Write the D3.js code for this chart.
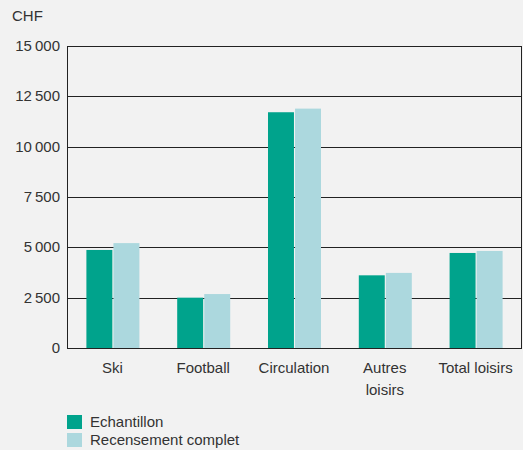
<!DOCTYPE html>
<html>
<head>
<meta charset="utf-8">
<script src="https://d3js.org/d3.v7.min.js"></script>
<style>
  body { margin: 0; background: #f2f2f2; }
  svg { display: block; font-family: "Liberation Sans", Arial, sans-serif; }
</style>
</head>
<body>
<svg id="chart" width="523" height="450"></svg>
<script>
// categories (line breaks split with |)
var categories = ["Ski", "Football", "Circulation", "Autres|loisirs", "Total loisirs"];
var echantillon = [4870, 2500, 11710, 3610, 4720];
var recensement = [5210, 2680, 11890, 3730, 4820];
var seriesNames = ["Echantillon", "Recensement complet"];
var yTicks = [0, 2500, 5000, 7500, 10000, 12500, 15000];

var colors = ["#00a38c", "#acd8de"];
var svg = d3.select("#chart");
var plotLeft = 67, plotRight = 521, plotTop = 46, plotBottom = 348;
var fs = 15;

var x = d3.scaleBand().domain(categories).range([plotLeft, plotRight]).paddingInner(0).paddingOuter(0);
var xs = d3.scaleBand().domain(seriesNames).range([0, 53]).paddingInner(0.04);
var y = d3.scaleLinear().domain([0, 15000]).range([plotBottom, plotTop]);

function fmt(v) {
  var s = String(v);
  return s.length > 3 ? s.slice(0, -3) + "\u202F" + s.slice(-3) : s;
}

// gridlines
svg.append("g").selectAll("line").data(yTicks).join("line")
  .attr("x1", plotLeft).attr("x2", plotRight)
  .attr("y1", function(d) { return Math.round(y(d)) + 0.5; })
  .attr("y2", function(d) { return Math.round(y(d)) + 0.5; })
  .attr("stroke", "#222").attr("stroke-width", 1);

// tick labels
svg.append("g").selectAll("text").data(yTicks).join("text")
  .attr("x", 60).attr("y", function(d) { return y(d) + 5; })
  .attr("text-anchor", "end").attr("font-size", fs).attr("fill", "#333")
  .text(fmt);

svg.append("text").attr("x", 12).attr("y", 21).attr("font-size", fs).attr("fill", "#333").text("CHF");

// bars
var data = categories.map(function(c, i) {
  return [{ cat: c, s: seriesNames[0], v: echantillon[i], k: 0 },
          { cat: c, s: seriesNames[1], v: recensement[i], k: 1 }];
});
var groups = svg.append("g").selectAll("g").data(data).join("g")
  .attr("transform", function(d) { return "translate(" + (x(d[0].cat) + x.bandwidth() / 2 - 26) + ",0)"; });
groups.selectAll("rect").data(function(d) { return d; }).join("rect")
  .attr("x", function(d) { return xs(d.s); })
  .attr("width", xs.bandwidth())
  .attr("y", function(d) { return y(d.v); })
  .attr("height", function(d) { return y(0) - y(d.v); })
  .attr("fill", function(d) { return colors[d.k]; });

// frame: left and right verticals
svg.append("line").attr("x1", plotLeft + 0.5).attr("x2", plotLeft + 0.5).attr("y1", plotTop).attr("y2", plotBottom + 1)
  .attr("stroke", "#222");
svg.append("line").attr("x1", plotRight + 0.5).attr("x2", plotRight + 0.5).attr("y1", plotTop).attr("y2", plotBottom + 1)
  .attr("stroke", "#222");

// category labels
var labels = svg.append("g").selectAll("text").data(categories).join("text")
  .attr("x", function(d) { return x(d) + x.bandwidth() / 2; })
  .attr("y", 373).attr("text-anchor", "middle").attr("font-size", fs).attr("fill", "#333");
labels.selectAll("tspan").data(function(d) { return d.split("|"); }).join("tspan")
  .attr("x", function() { var p = this.parentNode.__data__; return x(p) + x.bandwidth() / 2; })
  .attr("dy", function(d, i) { return i === 0 ? 0 : 22; })
  .text(function(d) { return d; });

// legend
var legend = svg.append("g").selectAll("g").data(seriesNames).join("g")
  .attr("transform", function(d, i) { return "translate(67," + (415 + i * 18) + ")"; });
legend.append("rect").attr("width", 15).attr("height", 14)
  .attr("fill", function(d, i) { return colors[i]; });
legend.append("text").attr("x", 23).attr("y", 12).attr("font-size", fs).attr("fill", "#333")
  .text(function(d) { return d; });
</script>
</body>
</html>
